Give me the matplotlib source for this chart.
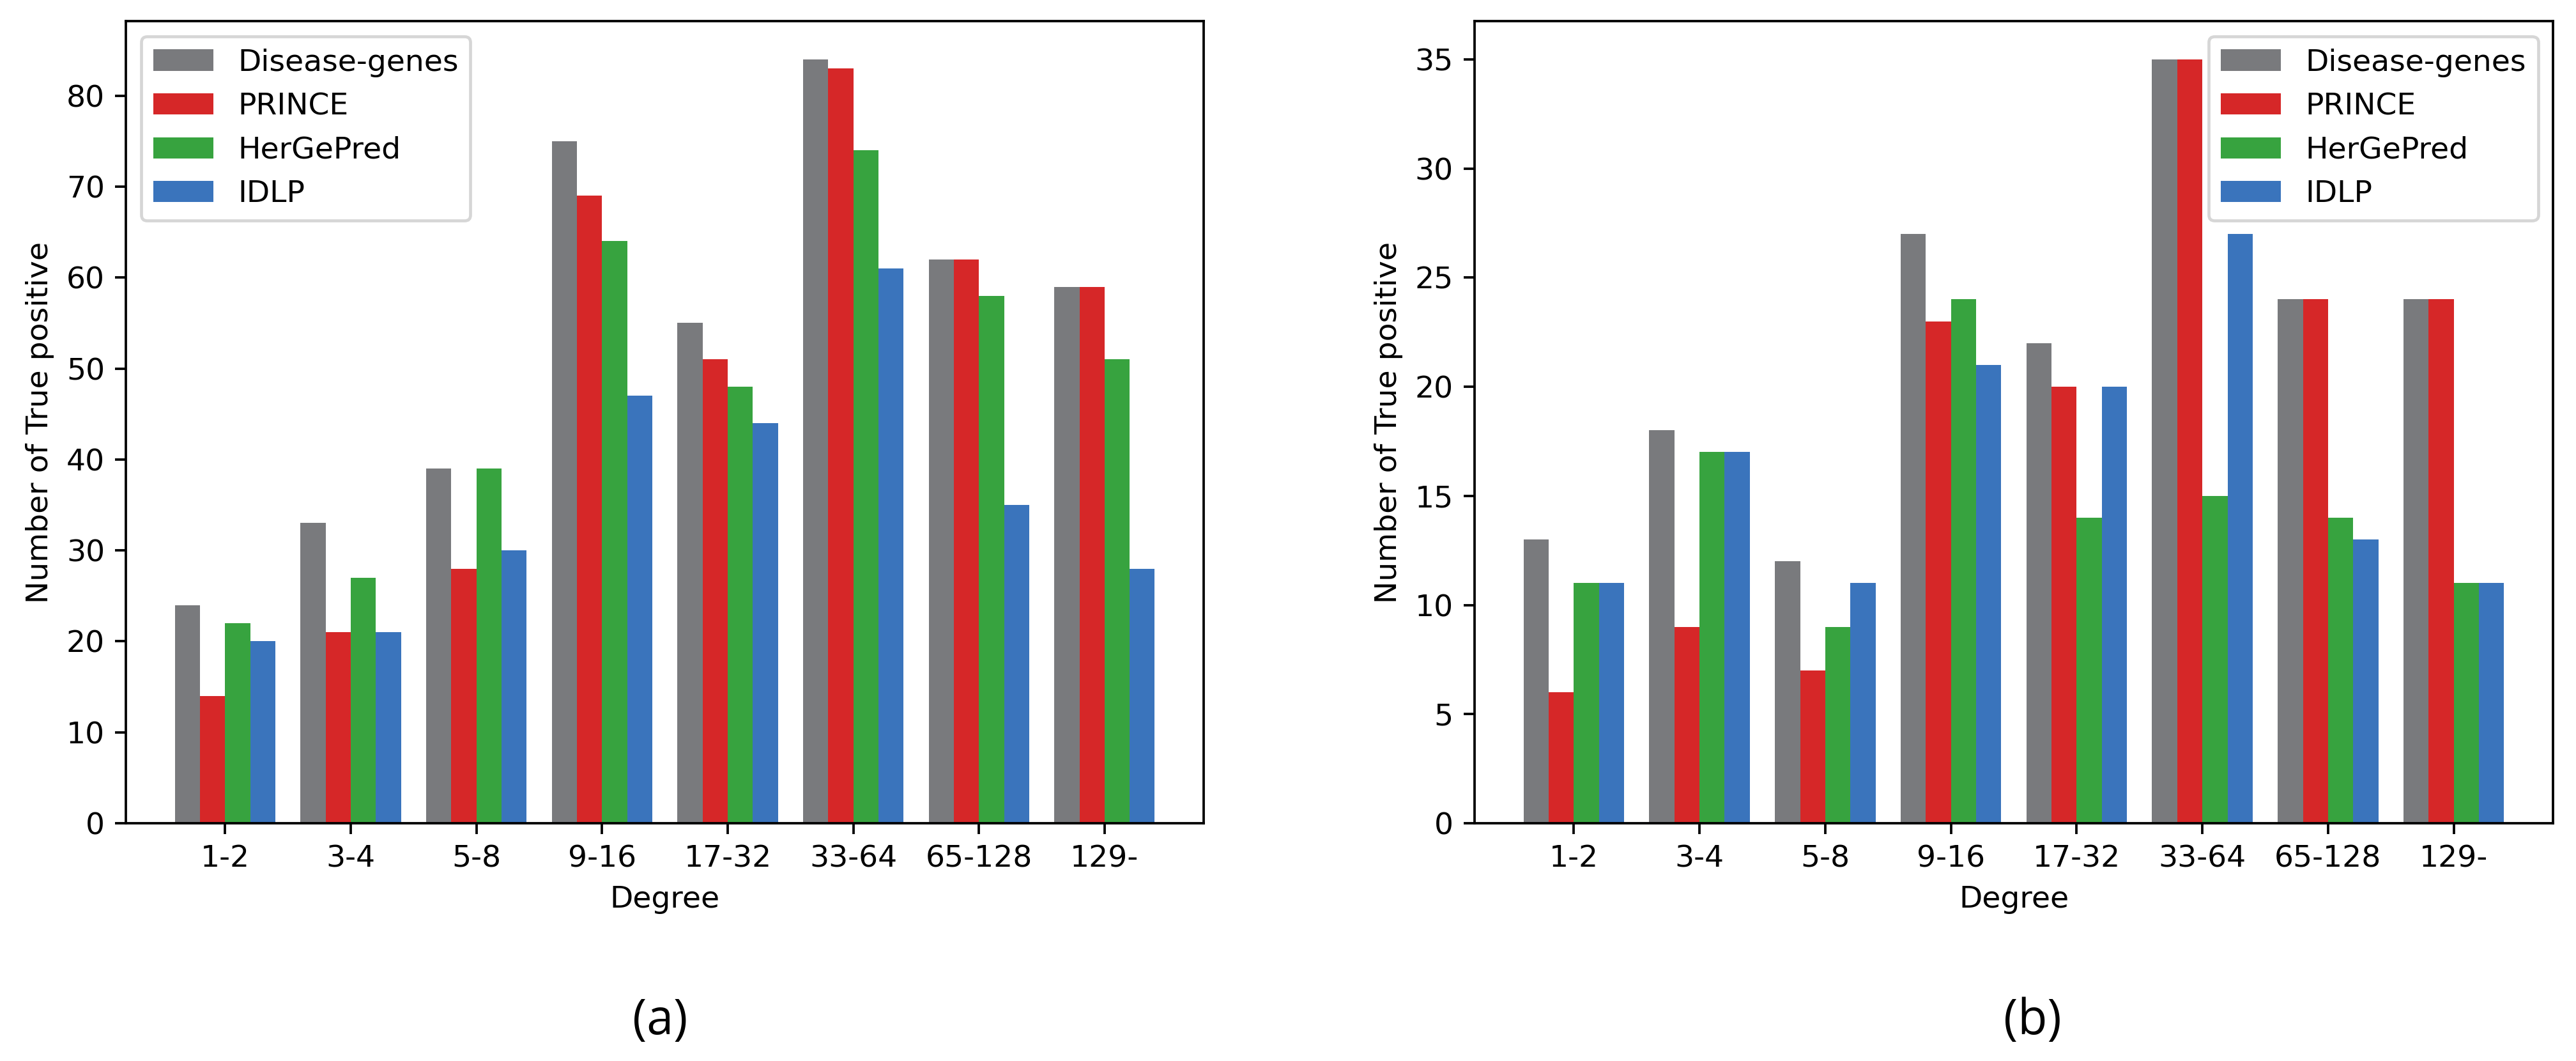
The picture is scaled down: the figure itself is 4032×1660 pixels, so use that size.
import matplotlib.pyplot as plt
import numpy as np

degrees = ['1-2', '3-4', '5-8', '9-16', '17-32', '33-64', '65-128', '129-']
methods = ['Disease-genes', 'PRINCE', 'HerGePred', 'IDLP']

# panel (a)
a_disease = [24, 33, 39, 75, 55, 84, 62, 59]
a_prince = [14, 21, 28, 69, 51, 83, 62, 59]
a_hergepred = [22, 27, 39, 64, 48, 74, 58, 51]
a_idlp = [20, 21, 30, 47, 44, 61, 35, 28]

# panel (b)
b_disease = [13, 18, 12, 27, 22, 35, 24, 24]
b_prince = [6, 9, 7, 23, 20, 35, 24, 24]
b_hergepred = [11, 17, 9, 24, 14, 15, 14, 11]
b_idlp = [11, 17, 11, 21, 20, 27, 13, 11]

colors = ['#797a7d', '#d62728', '#37a33f', '#3a74bc']

fig = plt.figure(figsize=(4032 / 340, 1660 / 340), dpi=340)
ax1 = fig.add_axes([0.0489, 0.2241, 0.4184, 0.756])
ax2 = fig.add_axes([0.5724, 0.2241, 0.4187, 0.756])

x = np.arange(len(degrees))
width = 0.2


def draw(ax, series, loc):
    for i, (vals, name) in enumerate(zip(series, methods)):
        ax.bar(x + (i - 1.5) * width, vals, width, color=colors[i], label=name)
    ax.set_xticks(x)
    ax.set_xticklabels(degrees)
    ax.set_xlabel('Degree')
    ax.set_ylabel('Number of True positive')
    ax.legend(loc=loc)


draw(ax1, [a_disease, a_prince, a_hergepred, a_idlp], 'upper left')
draw(ax2, [b_disease, b_prince, b_hergepred, b_idlp], 'upper right')

fig.text(1033 / 4032, 1 - 1598 / 1660, '(a)', ha='center', va='center',
         fontsize=16, family='Open Sans')
fig.text(3181 / 4032, 1 - 1598 / 1660, '(b)', ha='center', va='center',
         fontsize=16, family='Open Sans')

plt.savefig('out.png', dpi=340)
